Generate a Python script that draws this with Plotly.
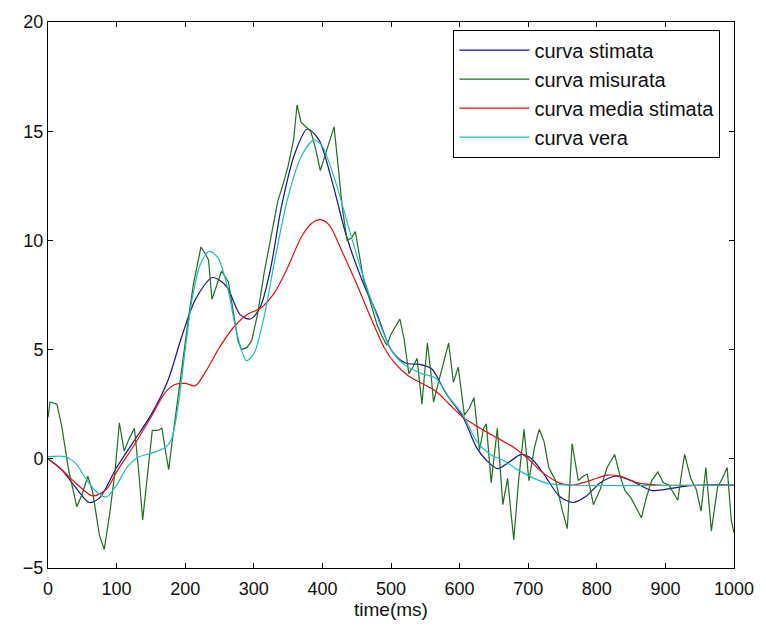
import plotly.graph_objects as go

# ---- data ----
blue_x = [0, 20, 40, 60, 75, 100, 125, 150, 175, 195, 215, 240, 260, 280, 295, 310, 325, 340, 360, 378,
          395, 415, 435, 460, 480, 500, 520, 545, 560, 580, 605, 625, 640, 655, 670, 690, 705, 725, 745,
          765, 785, 805, 828, 850, 880, 900, 930, 960, 1000]
blue_y = [0, -0.5, -1.3, -2.0, -1.8, -0.4, 0.8, 2.0, 3.6, 5.6, 7.3, 8.3, 7.9, 6.6, 6.4, 7.0, 8.8, 11.5, 14.0, 15.1,
          14.6, 12.6, 10.2, 8.0, 6.6, 5.0, 4.4, 4.3, 4.1, 3.0, 1.9, 0.5, -0.1, -0.45, -0.2, 0.2, 0.0, -0.8, -1.7,
          -2.0, -1.7, -1.1, -0.8, -1.0, -1.45, -1.4, -1.25, -1.2, -1.2]

red_x = [0, 20, 40, 65, 85, 100, 125, 150, 170, 185, 200, 215, 230, 250, 270, 290, 310, 330, 350, 370, 385,
         397, 410, 430, 450, 470, 490, 505, 525, 545, 565, 585, 605, 630, 655, 680, 700, 720, 745, 765, 790,
         815, 835, 860, 890, 1000]
red_y = [0, -0.5, -1.1, -1.7, -1.4, -0.6, 0.6, 1.9, 3.0, 3.4, 3.45, 3.35, 4.0, 5.1, 6.0, 6.6, 6.9, 7.6, 8.8, 10.2, 10.8,
         10.95, 10.7, 9.4, 8.0, 6.5, 5.1, 4.4, 3.8, 3.45, 3.1, 2.5, 1.9, 1.4, 0.95, 0.5, 0.0, -0.6, -1.1, -1.2, -1.0,
         -0.75, -0.8, -1.1, -1.2, -1.2]

cyan_x = [0, 25, 40, 55, 70, 85, 100, 115, 130, 150, 170, 180, 190, 200, 210, 222, 235, 248, 262, 275, 289,
          300, 315, 330, 350, 370, 388, 400, 420, 440, 460, 480, 500, 520, 545, 565, 585, 605, 625, 645, 665,
          690, 725, 760, 1000]
cyan_y = [0.1, 0.1, -0.2, -0.9, -1.5, -1.75, -1.2, -0.4, 0.05, 0.25, 0.5, 0.9, 2.5, 5.0, 7.3, 8.9, 9.5, 9.2, 7.8, 5.8, 4.5,
          4.8, 6.5, 9.0, 12.0, 13.9, 14.6, 14.3, 12.6, 10.4, 8.3, 6.5, 5.0, 4.3, 3.9, 3.7, 2.8, 2.0, 0.8, 0.2, -0.1,
          -0.6, -1.1, -1.2, -1.2]

green_x = [0, 3, 13, 20, 30, 42, 50, 58, 65, 75, 82, 90, 98, 104, 111, 118, 126, 132, 138, 145, 152, 160, 166,
           172, 176, 181, 190, 198, 205, 212, 223, 229, 234, 239, 246, 253, 263, 270, 277, 282, 290, 297, 306,
           315, 325, 335, 343, 350, 358, 363, 369, 376, 383, 390, 397, 403, 408, 413, 417, 422, 429, 436, 442,
           448, 454, 460, 466, 473, 480, 487, 494, 500, 507, 513, 519, 526, 532, 538, 545, 549, 553, 558, 562,
           570, 578, 584, 591, 598, 607, 614, 621, 629, 635, 639, 646, 655, 663, 670, 675, 679, 686, 694, 701,
           709, 716, 723, 730, 740, 750, 757, 764, 773, 780, 786, 795, 805, 815, 826, 834, 841, 850, 858, 865,
           872, 880, 889, 897, 905, 912, 918, 923, 928, 937, 945, 952, 959, 967, 976, 983, 990, 996, 1000]
green_y = [1.9, 2.6, 2.5, 1.5, -0.5, -2.2, -1.6, -0.8, -1.5, -3.5, -4.15, -2.5, -0.5, 1.65, 0.36, 0.9, 1.4, -0.5,
           -2.8, -0.6, 1.3, 1.3, 1.4, 0.2, -0.5, 0.8, 3.0, 4.9, 6.5, 8.0, 9.7, 9.4, 9.1, 7.3, 8.0, 8.6, 8.1, 6.8,
           5.4, 5.0, 5.1, 5.4, 6.7, 8.5, 10.2, 11.8, 12.6, 13.4, 14.6, 16.2, 15.4, 15.2, 15.0, 14.2, 13.2, 13.8,
           14.3, 14.8, 15.2, 13.7, 11.5, 10.0, 10.1, 10.4, 9.2, 8.2, 7.6, 6.8, 6.1, 5.6, 5.2, 5.7, 6.1, 6.4, 5.5,
           3.9, 4.2, 4.6, 2.5, 3.8, 5.3, 4.0, 2.6, 3.6, 4.6, 5.3, 3.5, 4.2, 2.0, 2.3, 2.8, 0.4, 1.4, 1.6, -1.1,
           1.4, -2.1, -0.9, -2.5, -3.7, -1.0, 1.35, -1.0, 0.5, 1.35, 0.8, -0.4, -1.0, -2.4, -3.2, 0.7, -1.0, -0.8,
           -0.7, -2.1, -1.4, -0.4, 0.2, -0.8, -1.45, -1.8, -2.3, -2.7, -1.8, -1.0, -0.6, -1.1, -1.2, -1.6, -1.9,
           -0.8, 0.2, -0.9, -1.4, -2.4, -0.4, -3.3, -1.3, -0.9, -0.4, -2.8, -3.4]

names = ["curva stimata", "curva misurata", "curva media stimata", "curva vera"]
colors = ["#14148c", "#1e6e1e", "#e01010", "#20bcbc"]
x_ticks = [0, 100, 200, 300, 400, 500, 600, 700, 800, 900, 1000]
y_ticks = [-5, 0, 5, 10, 15, 20]
x_title = "time(ms)"

series = [(blue_x, blue_y, "spline"), (green_x, green_y, "linear"),
          (red_x, red_y, "spline"), (cyan_x, cyan_y, "spline")]

fig = go.Figure()
for i, ((xs, ys, shp), nm, col) in enumerate(zip(series, names, colors)):
    fig.add_trace(go.Scatter(x=xs, y=ys, mode="lines", name=nm, legendgroup=str(i),
                             line=dict(color=col, width=1.2, shape=shp, smoothing=0.8)))

tick_font = dict(family="Liberation Sans, Arial", size=18, color="#111")
axis_common = dict(showline=True, linecolor="black", linewidth=1, mirror="ticks", ticks="inside",
                   ticklen=5, tickcolor="black", showgrid=False, zeroline=False, tickfont=tick_font)

fig.update_layout(
    width=766, height=626,
    margin=dict(l=48, r=26, t=18, b=58),
    paper_bgcolor="white", plot_bgcolor="white",
    xaxis=dict(range=[0, 1000], tickvals=x_ticks, ticklabelstandoff=4, **axis_common,
               title=dict(text=x_title, font=dict(family="Liberation Sans, Arial", size=19, color="#111"),
                          standoff=2)),
    yaxis=dict(range=[-5, 20], tickvals=y_ticks, **axis_common),
    legend=dict(x=0.591, y=0.986, xanchor="left", yanchor="top", bgcolor="white",
                bordercolor="black", borderwidth=1, itemwidth=70, tracegroupgap=0,
                font=dict(family="Liberation Sans, Arial", size=20, color="#111")),
    showlegend=True,
)

fig.write_html("out.html")
